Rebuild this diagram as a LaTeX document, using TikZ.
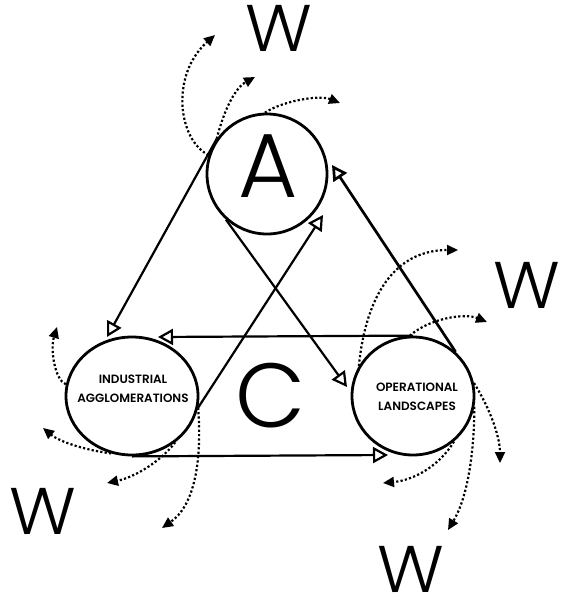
\documentclass[tikz,border=0pt]{standalone}
\usepackage{fontspec}
\usetikzlibrary{arrows.meta,shapes.geometric}
\newfontfamily\bigfont{Poppins Light}
\newfontfamily\wfont{Poppins Light}[FakeStretch=1.06]
\newfontfamily\lblfont{Poppins SemiBold}
\begin{document}
\begin{tikzpicture}[x=1pt,y=-1pt,
  ring/.style={draw, line width=2.8pt, inner sep=0pt},
  solidarr/.style={line width=2.2pt, -{Triangle[open,length=15pt,width=16pt]}},
  thickarr/.style={line width=2.7pt, -{Triangle[open,length=15pt,width=16pt]}},
  dotarr/.style={line width=2.2pt, dash pattern=on 2.2pt off 2.2pt, -{Triangle[length=11pt,width=10pt]}},
  bigletter/.style={inner sep=0pt, font=\bigfont\fontsize{91}{91}\selectfont},
  wletter/.style={inner sep=0pt, font=\wfont\fontsize{66}{66}\selectfont},
  lbl/.style={inner sep=0pt, align=center, font=\lblfont\fontsize{12}{18.5}\selectfont}
]
\useasboundingbox (0,0) rectangle (563,603);

% circles
\node[ring, circle, minimum size=120pt] (A) at (267,174) {};
\node[ring, ellipse, minimum width=132pt, minimum height=118pt] (I) at (132,396) {};
\node[ring, ellipse, minimum width=122pt, minimum height=118pt] (O) at (413,396) {};

% big letters
\node[bigletter] (la) at (268,166.5) {A};
\node[bigletter] (lc) at (271,396) {C};

% labels
\node[lbl] (li) at (133,389) {INDUSTRIAL\\AGGLOMERATIONS};
\node[lbl] (lo) at (417,397) {OPERATIONAL\\LANDSCAPES};

% W letters
\node[wletter] (w1) at (279,28) {W};
\node[wletter] (w2) at (527,285) {W};
\node[wletter] (w3) at (411,569) {W};
\node[wletter] (w4) at (43,511) {W};

% tips of solid connectors
\coordinate (tAI) at (107,337);
\coordinate (tAO) at (347,387);
\coordinate (tIA) at (323,215);
\coordinate (tOA) at (332,165);
\coordinate (tOI) at (158,337);
\coordinate (tIO) at (388,455);

\draw[solidarr] (A.145) -- (tAI);
\draw[solidarr] (A.228) -- (tAO);
\draw[solidarr] (I.350) -- (tIA);
\draw[thickarr] (O.46) -- (tOA);
\draw[solidarr] (O.90) -- (tOI);
\draw[solidarr] (I.270) -- (tIO);

% free ends of dotted arrows
\coordinate (d1) at (215,35);
\coordinate (d2) at (255,77);
\coordinate (d3) at (340,103);
\coordinate (d4) at (57,327);
\coordinate (d5) at (43,428);
\coordinate (d6) at (107,483);
\coordinate (d7) at (162,528);
\coordinate (d8) at (458,250);
\coordinate (d9) at (487,322);
\coordinate (d10) at (500,463);
\coordinate (d11) at (448,530);
\coordinate (d12) at (383,483);

% around A
\draw[dotarr] (A.162) .. controls (178,140) and (170,75) .. (d1);
\draw[dotarr] (A.145) .. controls (224,110) and (235,88) .. (d2);
\draw[dotarr] (A.92) .. controls (285,100) and (320,95) .. (d3);
% around I
\draw[dotarr] (I.170) .. controls (55,380) and (50,350) .. (d4);
\draw[dotarr] (I.250) .. controls (85,450) and (60,442) .. (d5);
\draw[dotarr] (I.313) .. controls (160,462) and (135,477) .. (d6);
\draw[dotarr] (I.350) .. controls (202,460) and (195,505) .. (d7);
% around O
\draw[dotarr] (O.151) .. controls (366,295) and (395,250) .. (d8);
\draw[dotarr] (O.93) .. controls (430,318) and (465,313) .. (d9);
\draw[dotarr] (O.12) .. controls (488,405) and (500,435) .. (d10);
\draw[dotarr] (O.350) .. controls (474,460) and (466,500) .. (d11);
\draw[dotarr] (O.312) .. controls (440,465) and (415,480) .. (d12);
\end{tikzpicture}
\end{document}
